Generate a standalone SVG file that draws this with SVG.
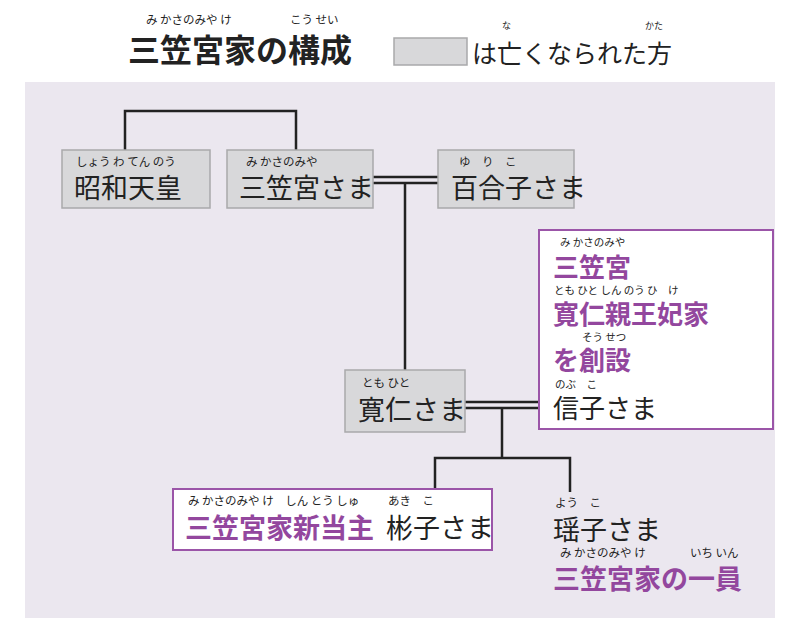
<svg xmlns="http://www.w3.org/2000/svg" width="800" height="636" viewBox="0 0 800 636">
<style>
text{font-family:"Noto Sans CJK JP",sans-serif;fill:#222}
.r{font-size:11.5px}
.s{font-size:10.5px}
.m{font-size:27px}
.n{font-size:26px}
.p{fill:#93479e;font-weight:bold}
.g{fill:#d8d8da;stroke:#a9a9ab;stroke-width:1.5}
.w{fill:#fff;stroke:#9b55a8;stroke-width:2}
.l{fill:none;stroke:#222;stroke-width:2.5}
</style>
<rect width="800" height="636" fill="#fff"/>
<rect x="25" y="82" width="750" height="536" fill="#ebe7ef"/>
<g id="title">
<text x="146" y="24" class="r">み かさのみや け</text>
<text x="290" y="24" class="r">こう せい</text>
<text x="128" y="62" font-size="32" font-weight="bold">三笠宮家の構成</text>
<rect x="394" y="38" width="73" height="27" class="g"/>
<text x="472" y="63" font-size="25">は亡くなられた方</text>
<text x="502" y="29" font-size="9">な</text>
<text x="645" y="29" font-size="9">かた</text>
</g>
<g id="connectors">
<path class="l" d="M125 150V111H296V150"/>
<path class="l" d="M373 177H438M373 183H438M405 183V370"/>
<path class="l" d="M465 402H540M465 408H540M502 408V458M435 489V458H570V492"/>
</g>
<g id="showa"><rect x="62" y="150" width="148" height="58" class="g"/>
<text x="76" y="166" class="r">しょう わ てん のう</text><text x="74" y="198" class="m">昭和天皇</text></g>
<g id="mikasanomiya"><rect x="227" y="150" width="146" height="58" class="g"/>
<text x="246" y="166" class="r">み かさのみや</text><text x="239" y="198" class="m">三笠宮さま</text></g>
<g id="yuriko"><rect x="438" y="150" width="136" height="58" class="g"/>
<text x="459" y="166" class="r">ゆ　り　こ</text><text x="451" y="198" class="m">百合子さま</text></g>
<g id="tomohito"><rect x="345" y="370" width="120" height="62" class="g"/>
<text x="362" y="387" class="r">とも ひと</text><text x="358" y="420" class="m">寛仁さま</text></g>
<g id="nobuko"><rect x="539" y="230" width="234" height="199" class="w"/>
<text x="560" y="246" class="s">み かさのみや</text>
<text x="553" y="277" class="n p">三笠宮</text>
<text x="554" y="294" class="s">とも ひと しん のう ひ　け</text>
<text x="553" y="324" class="n p">寛仁親王妃家</text>
<text x="582" y="341" class="s">そう せつ</text>
<text x="553" y="370" class="n p">を創設</text>
<text x="555" y="388" class="s">のぶ　こ</text>
<text x="553" y="418" class="n">信子さま</text></g>
<g id="akiko"><rect x="173" y="489" width="319" height="61" class="w"/>
<text x="188" y="505" class="r">み かさのみや け　しん とう しゅ</text>
<text x="388" y="505" class="r">あき　こ</text>
<text x="185" y="538" class="m p">三笠宮家新当主</text>
<text x="386" y="538" class="m">彬子さま</text></g>
<g id="yoko">
<text x="555" y="507" class="r">よう　こ</text>
<text x="553" y="540" class="m">瑶子さま</text>
<text x="560" y="557" class="r">み かさのみや け</text>
<text x="690" y="557" class="r">いち いん</text>
<text x="553" y="589" class="m p">三笠宮家の一員</text></g>
</svg>
